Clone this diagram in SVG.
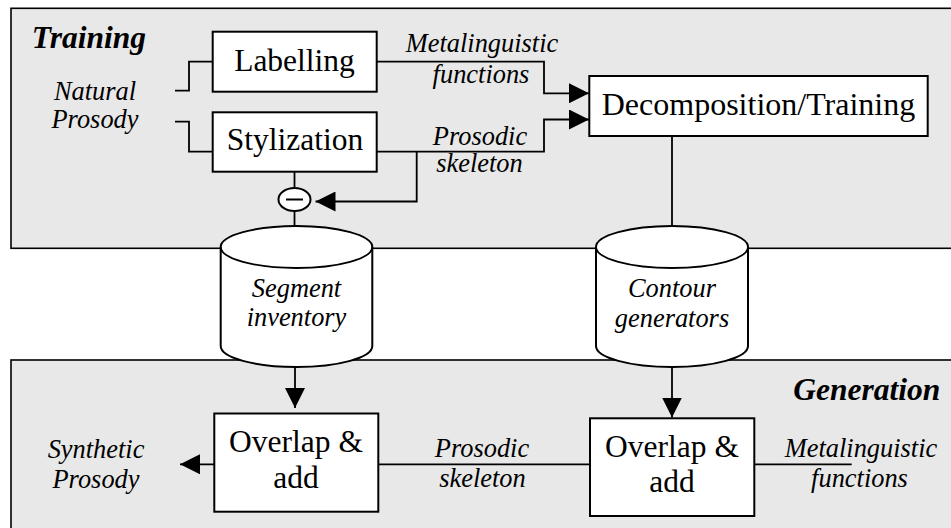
<svg xmlns="http://www.w3.org/2000/svg" width="951" height="528" viewBox="0 0 951 528">
<style>
.panel{fill:#e8e8e8;stroke:#000;stroke-width:1.6}
.box{fill:#fff;stroke:#000;stroke-width:2}
.cyl{fill:#fff;stroke:#000;stroke-width:2}
.ln{fill:none;stroke:#000;stroke-width:1.8}
text{font-family:"Liberation Serif","Times New Roman",serif;fill:#000}
.tb{font-size:31.5px;text-anchor:middle}
.tl{font-size:26.4px;font-style:italic;text-anchor:middle}
.tt{font-size:31.5px;font-style:italic;font-weight:bold}
</style>
<defs>
<marker id="arr" viewBox="0 0 20 20" refX="20" refY="10" markerWidth="20" markerHeight="20" markerUnits="userSpaceOnUse" orient="auto">
<path d="M0,0 L20,10 L0,20 z" fill="#000"/>
</marker>
</defs>
<rect width="951" height="528" fill="#fff"/>
<g id="panel-training">
<rect class="panel" x="11" y="8.3" width="960" height="240"/>
<text class="tt" x="31.7" y="48.3">Training</text>
</g>
<g id="panel-generation">
<rect class="panel" x="11" y="360" width="960" height="200"/>
<text class="tt" x="793.3" y="400">Generation</text>
</g>
<g id="labels">
<text class="tl" x="95" y="100">Natural</text>
<text class="tl" x="95" y="128.3">Prosody</text>
<text class="tl" x="482" y="51.7">Metalinguistic</text>
<text class="tl" x="481" y="82.7">functions</text>
<text class="tl" x="480" y="145">Prosodic</text>
<text class="tl" x="479.5" y="171.7">skeleton</text>
<text class="tl" x="96" y="458.3">Synthetic</text>
<text class="tl" x="96" y="488.3">Prosody</text>
<text class="tl" x="482" y="457.3">Prosodic</text>
<text class="tl" x="482.5" y="487.3">skeleton</text>
<text class="tl" x="861" y="456.7">Metalinguistic</text>
<text class="tl" x="859.5" y="486.7">functions</text>
</g>
<g id="connectors">
<path class="ln" d="M175,90.7 H189 V61.7 H212.7"/>
<path class="ln" d="M175,121.7 H189 V151.7 H212.7"/>
<path class="ln" d="M376.7,61.7 H544 V93.3 H589" marker-end="url(#arr)"/>
<path class="ln" d="M376.7,151.7 H544 V119.5 H589" marker-end="url(#arr)"/>
<path class="ln" d="M416.7,151.7 V201.5 H315.5" marker-end="url(#arr)"/>
<path class="ln" d="M294.5,171.7 V188"/>
<path class="ln" d="M294.5,211 V226"/>
<path class="ln" d="M672,136 V226"/>
<path class="ln" d="M295,366 V408" marker-end="url(#arr)"/>
<path class="ln" d="M672,366 V417.5" marker-end="url(#arr)"/>
<path class="ln" d="M214,464.3 H180" marker-end="url(#arr)"/>
<path class="ln" d="M378.3,464.3 H590"/>
<path class="ln" d="M851.7,464.3 H754.3"/>
</g>
<g id="labelling">
<rect class="box" x="212.7" y="31.7" width="164" height="60"/>
<text class="tb" x="294.5" y="70.7">Labelling</text>
</g>
<g id="stylization">
<rect class="box" x="212.7" y="112.3" width="164" height="59.4"/>
<text class="tb" x="295" y="150">Stylization</text>
</g>
<g id="minus">
<ellipse cx="294.5" cy="199.5" rx="16" ry="11.5" fill="#fff" stroke="#000" stroke-width="2"/>
<line x1="286" y1="199.5" x2="303" y2="199.5" stroke="#000" stroke-width="2"/>
</g>
<g id="decomposition">
<rect class="box" x="589.3" y="76" width="338.4" height="60"/>
<text class="tb" x="758.5" y="115" style="font-size:32px">Decomposition/Training</text>
</g>
<g id="segment-inventory">
<path class="cyl" d="M220.7,247 V346 A75.8,21 0 0 0 372.3,346 V247 A75.8,21 0 0 0 220.7,247 Z"/>
<path class="ln" d="M220.7,247 A75.8,21 0 0 0 372.3,247" stroke-width="2"/>
<text class="tl" x="296.5" y="296.7">Segment</text>
<text class="tl" x="296.5" y="326">inventory</text>
</g>
<g id="contour-generators">
<path class="cyl" d="M596,247 V346 A76,21 0 0 0 748,346 V247 A76,21 0 0 0 596,247 Z"/>
<path class="ln" d="M596,247 A76,21 0 0 0 748,247" stroke-width="2"/>
<text class="tl" x="672" y="296.7">Contour</text>
<text class="tl" x="672" y="326.7">generators</text>
</g>
<g id="overlap-left">
<rect class="box" x="214.3" y="413.5" width="164" height="98.2"/>
<text class="tb" x="296" y="451.7">Overlap &amp;</text>
<text class="tb" x="296" y="488.3">add</text>
</g>
<g id="overlap-right">
<rect class="box" x="590" y="418.3" width="164.3" height="97.7"/>
<text class="tb" x="672" y="456.7">Overlap &amp;</text>
<text class="tb" x="672" y="491.7">add</text>
</g>
</svg>
